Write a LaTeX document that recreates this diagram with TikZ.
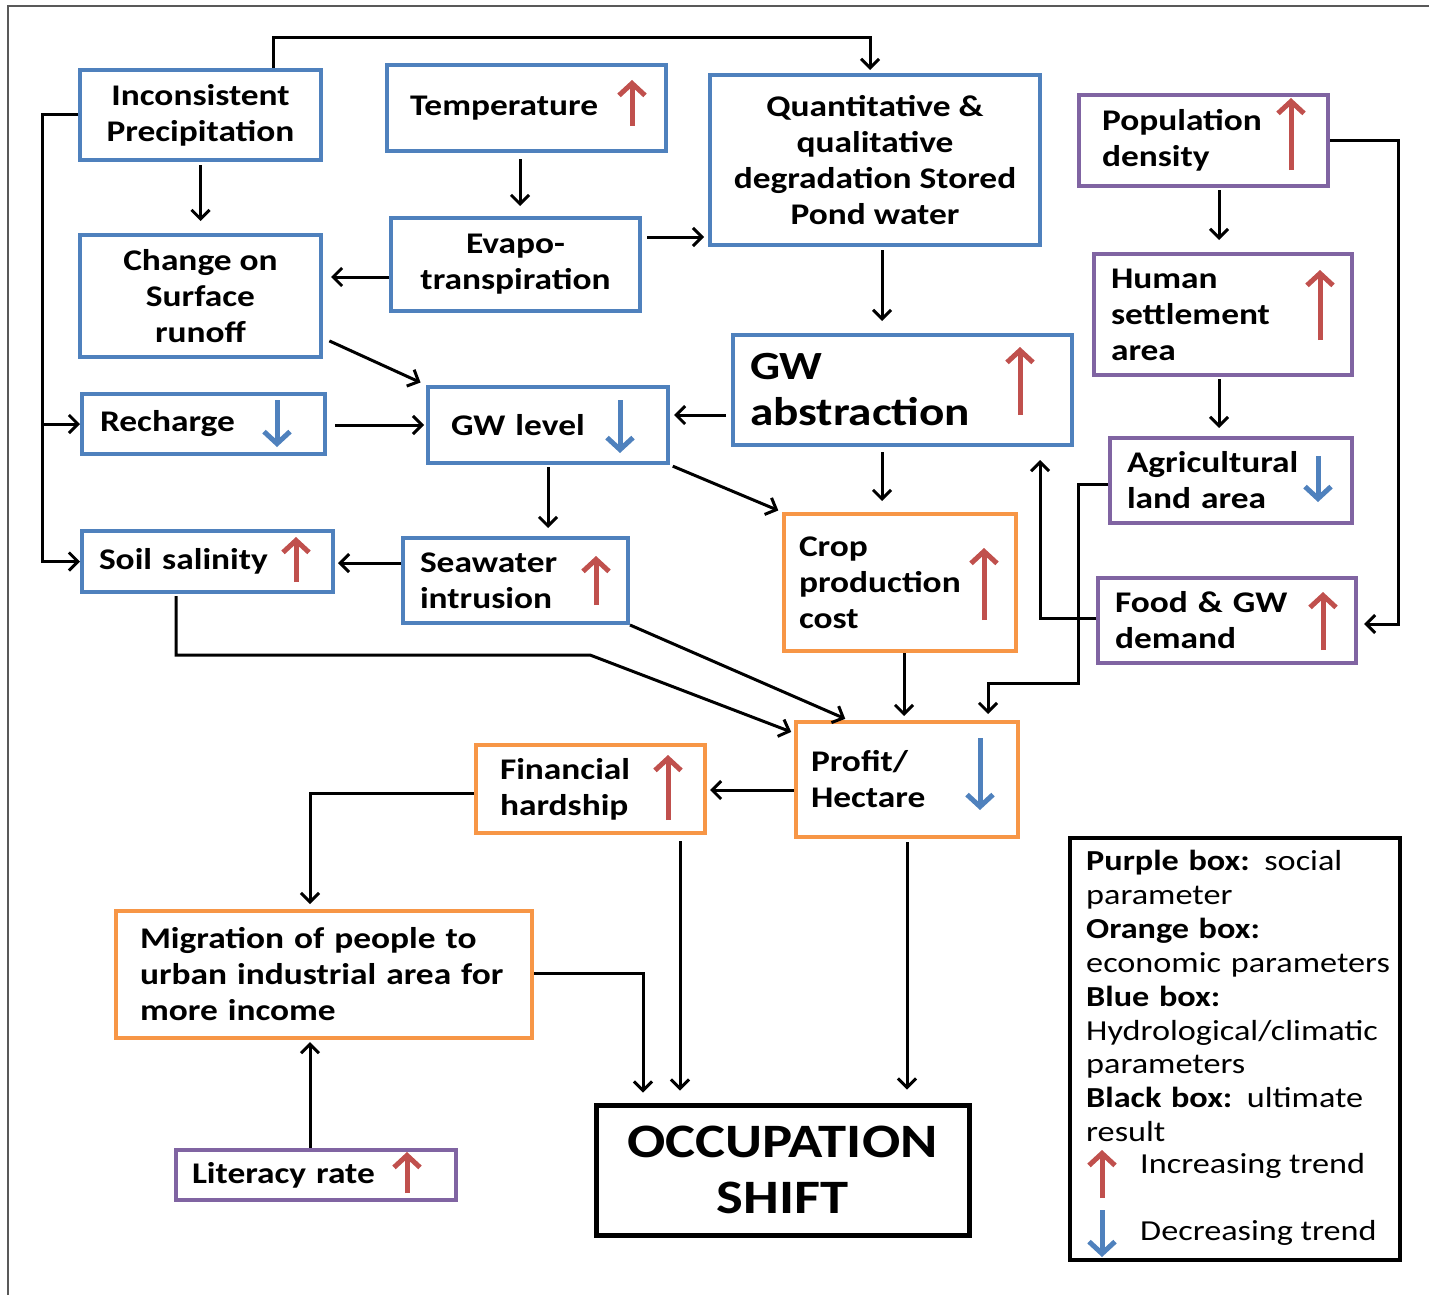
\documentclass[tikz,border=0pt]{standalone}
\usepackage{fontspec}
\setmainfont{Carlito}[FakeStretch=1.18]
\usetikzlibrary{arrows.meta,calc}
\definecolor{cblue}{HTML}{4F81BD}
\definecolor{cpurple}{HTML}{8064A2}
\definecolor{corange}{HTML}{F79646}
\definecolor{cred}{HTML}{C0504D}
\begin{document}
\begin{tikzpicture}[x=1pt,y=-1pt,
  box/.style={draw, line width=4pt, inner sep=0pt, font=\bfseries\fontsize{30}{36}\selectfont},
  bluebox/.style={box, cblue},
  purplebox/.style={box, cpurple},
  orangebox/.style={box, corange},
  blackbox/.style={box, black, line width=5pt},
  txt/.style={text=black},
  conn/.style={line width=3pt, -{Straight Barb[length=9pt,width=18pt,line width=3pt]}},
  up/.style={cred, line width=5pt, -{Straight Barb[length=12pt,width=26pt,line width=5pt]}},
  down/.style={cblue, line width=5pt, -{Straight Barb[length=12pt,width=26pt,line width=5pt]}}]
\useasboundingbox (0,0) rectangle (1429,1295);
\draw[black!65, line width=1.5pt] (8,1295) -- (8,6) -- (1429,6);

% boxes
\node[bluebox, txt, align=center, minimum width=241pt, minimum height=90pt] (ip) at (200.5,115) {Inconsistent\\Precipitation};
\node[bluebox, txt, align=left, text width=233pt, inner xsep=23pt, minimum height=86pt] (temp) at (526.5,108) {Temperature};
\node[bluebox, txt, align=center, minimum width=330pt, minimum height=170pt] (qd) at (875,160) {Quantitative \&\\qualitative\\degradation Stored\\Pond water};
\node[purplebox, txt, align=left, text width=203pt, inner xsep=23pt, minimum height=91pt] (pop) at (1203.5,140.5) {Population\\density};
\node[bluebox, txt, align=center, minimum width=241pt, minimum height=122pt] (cs) at (200.5,296) {Change on\\Surface\\runoff};
\node[bluebox, txt, align=center, minimum width=249pt, minimum height=93pt] (ev) at (515.5,264.5) {Evapo-\\transpiration};
\node[purplebox, txt, align=left, text width=224pt, inner xsep=17pt, minimum height=121pt] (hs) at (1223,314.5) {Human\\settlement\\area};
\node[bluebox, txt, align=left, text width=207pt, inner xsep=18pt, minimum height=60pt] (rc) at (203.5,424) {Recharge};
\node[bluebox, txt, align=left, text width=194pt, inner xsep=23pt, minimum height=76pt] (gwl) at (548,425) {GW level};
\node[bluebox, txt, align=left, text width=305pt, inner xsep=17pt, minimum height=110pt, font=\bfseries\fontsize{40}{46}\selectfont] (gwa) at (902.5,390) {GW\\abstraction};
\node[purplebox, txt, align=left, text width=208pt, inner xsep=17pt, minimum height=85pt] (ag) at (1231,480.5) {Agricultural\\land area};
\node[bluebox, txt, align=left, text width=217pt, inner xsep=17pt, minimum height=61pt] (ss) at (207.5,561.5) {Soil salinity};
\node[bluebox, txt, align=left, text width=191pt, inner xsep=17pt, minimum height=85pt] (sw) at (515.5,580.5) {Seawater\\intrusion};
\node[orangebox, txt, align=left, text width=202pt, inner xsep=15pt, minimum height=137pt] (cp) at (900,582.5) {Crop\\production\\cost};
\node[purplebox, txt, align=left, text width=224pt, inner xsep=17pt, minimum height=85pt] (fd) at (1227,620.5) {Food \& GW\\demand};
\node[orangebox, txt, align=left, text width=192pt, inner xsep=15pt, minimum height=115pt] (pr) at (907,779.5) {Profit/\\Hectare};
\node[orangebox, txt, align=left, text width=181pt, inner xsep=24pt, minimum height=88pt] (fh) at (590.5,789) {Financial\\hardship};
\node[orangebox, txt, align=left, text width=368pt, inner xsep=24pt, minimum height=127pt] (mg) at (324,974.5) {Migration of people to\\urban industrial area for\\more income};
\node[purplebox, txt, align=left, text width=248pt, inner xsep=16pt, minimum height=50pt] (lr) at (316,1175) {Literacy rate};
\node[blackbox, txt, align=center, minimum width=373pt, minimum height=130pt, font=\bfseries\fontsize{48}{56}\selectfont] (os) at (782.5,1170) {OCCUPATION\\SHIFT};
\node[draw, line width=4pt, minimum width=330pt, minimum height=422pt, inner sep=0pt] (lg) at (1235,1049) {};
\node[anchor=north west, inner sep=0pt, align=left, text width=310pt, font=\fontsize{29}{33.9}\selectfont] (lgt) at (1086,850)
  {\textbf{Purple box:} social\\parameter\\\textbf{Orange box:}\\economic parameters\\\textbf{Blue box:}\\Hydrological/climatic\\parameters\\\textbf{Black box:} ultimate\\result};
\node[anchor=west, inner sep=0pt, font=\fontsize{29}{34}\selectfont] (inc) at (1140,1166) {Increasing trend};
\node[anchor=west, inner sep=0pt, font=\fontsize{29}{34}\selectfont] (dec) at (1140,1233) {Decreasing trend};

% trend arrows
\draw[up] (632,126) -- (632,80);
\draw[up] (1291,170) -- (1291,98);
\draw[up] (1320,340) -- (1320,270);
\draw[down] (277,400) -- (277,447);
\draw[down] (620,400) -- (620,453);
\draw[up] (1020,415) -- (1020,347);
\draw[down] (1318,456) -- (1318,502);
\draw[up] (296,582) -- (296,537);
\draw[up] (596,605) -- (596,556);
\draw[up] (984,620) -- (984,548);
\draw[up] (1323,650) -- (1323,592);
\draw[down] (980,738) -- (980,810);
\draw[up] (668,820) -- (668,755);
\draw[up] (407,1193) -- (407,1152);
\draw[up] (1102,1198) -- (1102,1150);
\draw[down] (1102,1210) -- (1102,1257);

% connectors
\draw[conn, shorten >=3pt] (ip.north -| 273,0) |- (870,38) -- (qd.north -| 870,0);
\coordinate (jl) at (42,424);
\draw[conn] (ip.west) -- (42,115) |- (ss.west);
\draw[conn] (jl) -- (rc.west);
\draw[conn, shorten <=3pt, shorten >=12pt] (ip.south) -- (cs.north);
\draw[conn, shorten <=6pt, shorten >=10pt] (temp.south -| 520,0) -- (ev.north -| 520,0);
\draw[conn, shorten >=8pt] (ev.west |- 0,277) -- (cs.east |- 0,277);
\draw[conn, shorten <=5pt, shorten >=4pt] (ev.east |- 0,237) -- (qd.west |- 0,237);
\draw[conn, shorten <=3pt, shorten >=12pt] (qd.south -| 882,0) -- (gwa.north -| 882,0);
\draw[conn, shorten <=7pt, shorten >=6pt] (cs.east |- 0,338) -- (gwl.north west);
\draw[conn, shorten <=8pt, shorten >=2pt] (rc.east |- 0,425) -- (gwl.west);
\draw[conn, shorten <=5pt, shorten >=4pt] (gwa.west |- 0,415) -- (gwl.east |- 0,415);
\draw[conn, shorten <=2pt, shorten >=8pt] (gwl.south) -- (sw.north -| gwl.south);
\draw[conn, shorten <=3pt, shorten >=4pt] (gwl.south east) -- (cp.north west);
\draw[conn, shorten <=5pt, shorten >=11pt] (gwa.south -| 882,0) -- (cp.north -| 882,0);
\draw[conn, shorten >=3pt] (sw.west |- 0,563) -- (ss.east |- 0,563);
\draw[conn, shorten <=2pt, shorten >=3pt] (ss.south -| 176,0) |- (590,655) -- ([yshift=-13pt]pr.north west);
\draw[conn, shorten >=3pt] (sw.south east) -- (pr.north -| 848,0);
\draw[conn, shorten >=4pt] (cp.south -| 904,0) -- (pr.north -| 904,0);
\draw[conn, shorten >=6pt] (ag.west |- 0,484) -- (1078,484) |- (988,683) -- (pr.north -| 988,0);
\draw[conn, shorten >=13pt] (fd.west |- 0,618) -| (gwa.south -| 1040,0);
\draw[conn, shorten >=6pt] (pop.east |- 0,141) -| (1398,624) -- (fd.east |- 0,624);
\draw[conn, shorten <=2pt, shorten >=12pt] (pop.south -| 1219,0) -- (hs.north -| 1219,0);
\draw[conn, shorten <=2pt, shorten >=8pt] (hs.south -| 1219,0) -- (ag.north -| 1219,0);
\draw[conn, shorten >=3pt] (pr.west |- 0,790) -- (fh.east |- 0,790);
\draw[conn, shorten >=5pt] (fh.west |- 0,793) -| (mg.north -| 310,0);
\draw[conn, shorten <=6pt, shorten >=12pt] (fh.south -| 680,0) -- (os.north -| 680,0);
\draw[conn, shorten >=10pt] (mg.east |- 0,973) -| (os.north -| 643,0);
\draw[conn, shorten <=3pt, shorten >=13pt] (pr.south -| 907,0) -- (os.north -| 907,0);
\draw[conn, shorten >=2pt] (lr.north -| 310,0) -- (mg.south -| 310,0);
\end{tikzpicture}
\end{document}
